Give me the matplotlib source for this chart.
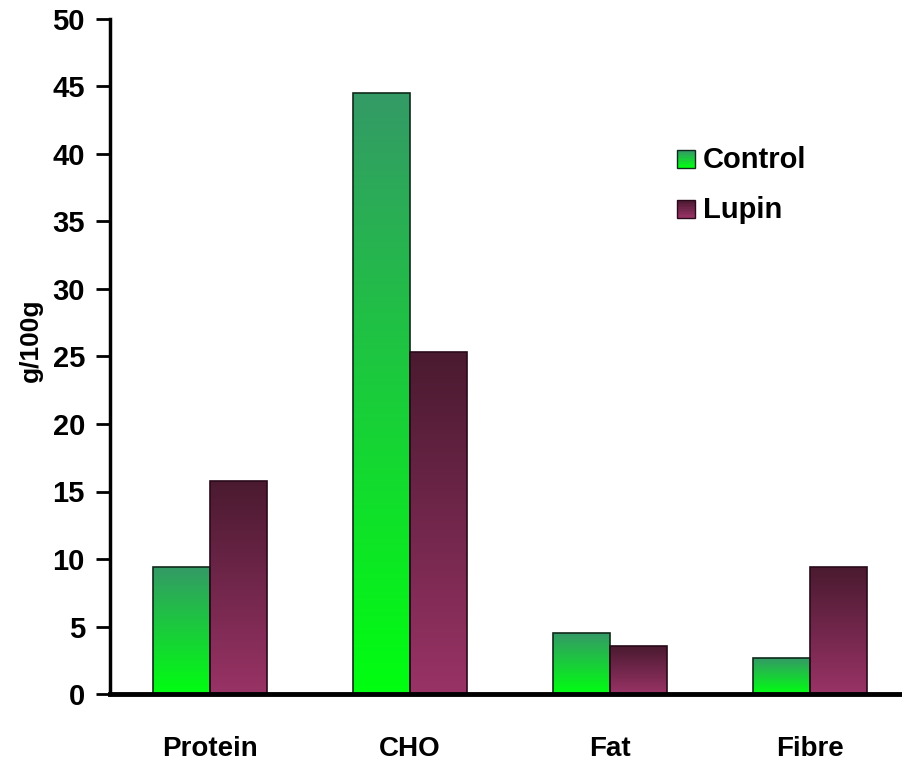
import numpy as np
import matplotlib
matplotlib.use("Agg")
import matplotlib.pyplot as plt
from matplotlib.patches import Rectangle
from matplotlib.legend_handler import HandlerBase
from matplotlib.colors import to_rgb

categories = ["Protein", "CHO", "Fat", "Fibre"]
control = [9.4, 44.5, 4.5, 2.65]
lupin = [15.8, 25.3, 3.55, 9.4]
series_names = ["Control", "Lupin"]
yticks = [0, 5, 10, 15, 20, 25, 30, 35, 40, 45, 50]

# gradient colours (top, bottom) and edge colours
grad = {
    "Control": ("#349a66", "#00ff10"),
    "Lupin": ("#4a1a30", "#993366"),
}
edges = {"Control": "#0f2a1a", "Lupin": "#2a0a1a"}

W, H = 902, 760
fig = plt.figure(figsize=(W / 100, H / 100), dpi=100)
ax = fig.add_axes([110 / W, 66 / H, 800 / W, 675 / H])

main_font = ["Liberation Sans", "DejaVu Sans"]


def gradient_array(top, bottom, n=256):
    t = np.linspace(0, 1, n)[:, None]
    c0 = np.array(to_rgb(top))
    c1 = np.array(to_rgb(bottom))
    arr = c0 * (1 - t) + c1 * t
    return arr[:, None, :]


x = np.arange(len(categories)) + 0.5
bw = 0.285
for vals, name, off in [(control, "Control", -bw / 2), (lupin, "Lupin", bw / 2)]:
    bars = ax.bar(x + off, vals, width=bw, facecolor="none",
                  edgecolor=edges[name], linewidth=1.2, zorder=3)
    img = gradient_array(*grad[name])
    for b in bars:
        x0, y0 = b.get_x(), b.get_y()
        w, h = b.get_width(), b.get_height()
        im = ax.imshow(img, extent=(x0, x0 + w, y0, y0 + h), origin="upper",
                       aspect="auto", zorder=2, interpolation="bilinear")
        im.set_clip_path(b)

ax.set_xlim(0, 4)
ax.set_ylim(0, 50)
ax.set_yticks(yticks)
ax.set_yticklabels([str(v) for v in yticks], fontfamily=main_font,
                   fontweight="bold", fontsize=21)
ax.set_xticks(x)
ax.set_xticklabels(categories, fontfamily=main_font, fontweight="bold",
                   fontsize=20)
ax.tick_params(axis="y", direction="out", length=10, width=2, pad=8)
ax.tick_params(axis="x", length=0, pad=30)
ax.set_ylabel("g/100g", fontfamily=main_font, fontweight="bold", fontsize=19)
ax.yaxis.set_label_coords(-67 / 800, (694 - 340) / 675)

for s in ["top", "right"]:
    ax.spines[s].set_visible(False)
ax.spines["left"].set_linewidth(2.5)
ax.spines["bottom"].set_linewidth(3.5)
ax.spines["bottom"].set_zorder(4)


class GradHandler(HandlerBase):
    def __init__(self, top, bottom, edge):
        super().__init__()
        self.top, self.bottom, self.edge = top, bottom, edge

    def create_artists(self, legend, orig_handle, xdescent, ydescent, width,
                       height, fontsize, trans):
        n = 12
        side = min(width, height)
        x0 = -xdescent
        y0 = -ydescent + (height - side) / 2 - 1
        arts = []
        arr = gradient_array(self.top, self.bottom, n)
        for i in range(n):
            r = Rectangle((x0, y0 + side - (i + 1) * side / n), side, side / n,
                          facecolor=arr[i, 0], edgecolor="none",
                          transform=trans)
            arts.append(r)
        arts.append(Rectangle((x0, y0), side, side, facecolor="none",
                              edgecolor=self.edge, linewidth=1,
                              transform=trans))
        return arts


h1 = Rectangle((0, 0), 1, 1)
h2 = Rectangle((0, 0), 1, 1)
leg = fig.legend([h1, h2], series_names,
                 handler_map={h1: GradHandler(*grad["Control"], edges["Control"]),
                              h2: GradHandler(*grad["Lupin"], edges["Lupin"])},
                 loc="upper left", bbox_to_anchor=(677 / W, 1 - 146 / H),
                 frameon=False, prop={"family": main_font, "weight": "bold",
                                      "size": 21},
                 handlelength=0.62, handleheight=0.62, handletextpad=0.28,
                 labelspacing=0.75, borderpad=0, borderaxespad=0)

fig.savefig("out.png", dpi=100)
